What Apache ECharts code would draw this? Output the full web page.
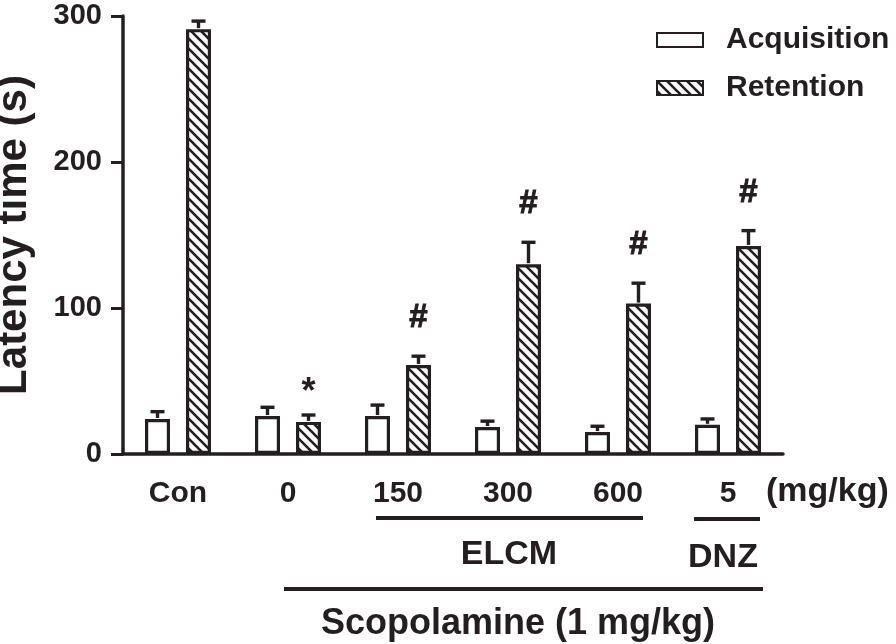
<!DOCTYPE html>
<html>
<head>
<meta charset="utf-8">
<script src="https://cdn.jsdelivr.net/npm/echarts@6/dist/echarts.min.js"></script>
<style>
  html, body { margin: 0; padding: 0; background: #fff; }
  #chart { width: 896px; height: 644px; }
</style>
</head>
<body>
<div id="chart"></div>
<script>
// values
var categories = ["Con", "0", "150", "300", "600", "5"];
var acquisition = [24, 26, 26, 18.5, 15, 20];
var acquisitionErr = [5, 6, 7.5, 4, 4, 4];
var retention = [291, 22, 61, 130, 103, 142.5];
var retentionErr = [5.5, 4.7, 6, 15, 14, 10.5];
var retentionMarks = ["", "*", "#", "#", "#", "#"];
var yTicks = [0, 100, 200, 300];

var INK = "#231f20";
var FONT = "Liberation Sans";
var BAR_W = 25;
var BAR_GAP = "64%";

// diagonal hatch for retention bars
function hatch() {
  var c = document.createElement("canvas");
  c.width = 10;
  c.height = 10;
  var ctx = c.getContext("2d");
  ctx.fillStyle = "#fff";
  ctx.fillRect(0, 0, 10, 10);
  ctx.strokeStyle = INK;
  ctx.lineWidth = 2.6;
  ctx.beginPath();
  ctx.moveTo(-2, -2); ctx.lineTo(12, 12);
  ctx.moveTo(-2, 8); ctx.lineTo(2, 12);
  ctx.moveTo(8, -2); ctx.lineTo(12, 2);
  ctx.stroke();
  return c;
}

function errorSeries(idx, vals, errs, marks) {
  return {
    type: "custom",
    z: 3,
    silent: true,
    data: vals.map(function (v, i) { return [i, v, errs[i]]; }),
    renderItem: function (params, api) {
      var i = api.value(0), v = api.value(1), e = api.value(2);
      var layout = api.barLayout({ count: 2, barWidth: BAR_W, barGap: BAR_GAP });
      var base = api.coord([i, v]);
      var top = api.coord([i, v + e]);
      var x = base[0] + layout[idx].offsetCenter;
      var st = { stroke: INK, lineWidth: 3.4 };
      var kids = [
        { type: "line", shape: { x1: x, y1: base[1] - 1, x2: x, y2: top[1] }, style: st },
        { type: "line", shape: { x1: x - 7, y1: top[1], x2: x + 7, y2: top[1] }, style: st }
      ];
      var m = marks ? marks[params.dataIndex] : "";
      if (m) {
        kids.push({
          type: "text",
          style: {
            text: m, x: x, y: top[1] - (m === "*" ? 22 : 38),
            align: "center", verticalAlign: "middle",
            font: "bold " + (m === "*" ? 36 : 33) + "px " + FONT, fill: INK,
            stroke: m === "#" ? INK : null, lineWidth: m === "#" ? 1 : 0
          }
        });
      }
      return { type: "group", children: kids };
    }
  };
}

var chart = echarts.init(document.getElementById("chart"));

var textBold = function (size) {
  return { fontFamily: FONT, fontWeight: "bold", fontSize: size, color: INK };
};

var option = {
  animation: false,
  backgroundColor: "#fff",
  grid: { left: 123, right: 113, top: 16, bottom: 190, containLabel: false, outerBoundsMode: "none" },
  legend: {
    orient: "vertical",
    left: 651,
    top: 20,
    itemWidth: 46,
    itemHeight: 14,
    itemGap: 18,
    icon: "rect",
    textStyle: Object.assign(textBold(30), { padding: [0, 0, 0, 18] }),
    data: ["Acquisition", "Retention"]
  },
  xAxis: {
    type: "category",
    data: categories,
    axisLine: { lineStyle: { color: INK, width: 3.5 } },
    axisTick: { alignWithLabel: true, length: 12, lineStyle: { color: INK, width: 3 } },
    axisLabel: Object.assign(textBold(30), { margin: 25 }),
    splitLine: { show: false }
  },
  yAxis: {
    type: "value",
    min: yTicks[0],
    max: yTicks[yTicks.length - 1],
    interval: 100,
    name: "Latency time (s)",
    nameLocation: "middle",
    nameGap: 88,
    nameTextStyle: textBold(42),
    axisLine: { show: true, lineStyle: { color: INK, width: 3.5 } },
    axisTick: { show: true, length: 12, lineStyle: { color: INK, width: 3 } },
    axisLabel: Object.assign(textBold(29), { margin: 21 }),
    splitLine: { show: false }
  },
  series: [
    {
      name: "Acquisition",
      type: "bar",
      barWidth: BAR_W,
      barGap: BAR_GAP,
      data: acquisition,
      itemStyle: { color: "#fff", borderColor: INK, borderWidth: 3.2 }
    },
    {
      name: "Retention",
      type: "bar",
      barWidth: BAR_W,
      barGap: BAR_GAP,
      data: retention,
      itemStyle: { color: { image: hatch(), repeat: "repeat" }, borderColor: INK, borderWidth: 3.2 }
    },
    errorSeries(0, acquisition, acquisitionErr, null),
    errorSeries(1, retention, retentionErr, retentionMarks)
  ],
  graphic: [
    { type: "text", left: 766, top: 475, style: { text: "(mg/kg)", font: "bold 34px " + FONT, fill: INK } },
    { type: "line", shape: { x1: 376, y1: 518, x2: 643, y2: 518 }, style: { stroke: INK, lineWidth: 4 } },
    { type: "line", shape: { x1: 694, y1: 519, x2: 760, y2: 519 }, style: { stroke: INK, lineWidth: 4 } },
    { type: "text", x: 509, y: 555, style: { text: "ELCM", font: "bold 34px " + FONT, fill: INK, align: "center", verticalAlign: "middle" } },
    { type: "text", x: 723, y: 558, style: { text: "DNZ", font: "bold 34px " + FONT, fill: INK, align: "center", verticalAlign: "middle" } },
    { type: "line", shape: { x1: 284, y1: 589, x2: 763, y2: 589 }, style: { stroke: INK, lineWidth: 4 } },
    { type: "text", x: 518, y: 624, style: { text: "Scopolamine (1 mg/kg)", font: "bold 36px " + FONT, fill: INK, align: "center", verticalAlign: "middle" } }
  ]
};

chart.setOption(option);
</script>
</body>
</html>
